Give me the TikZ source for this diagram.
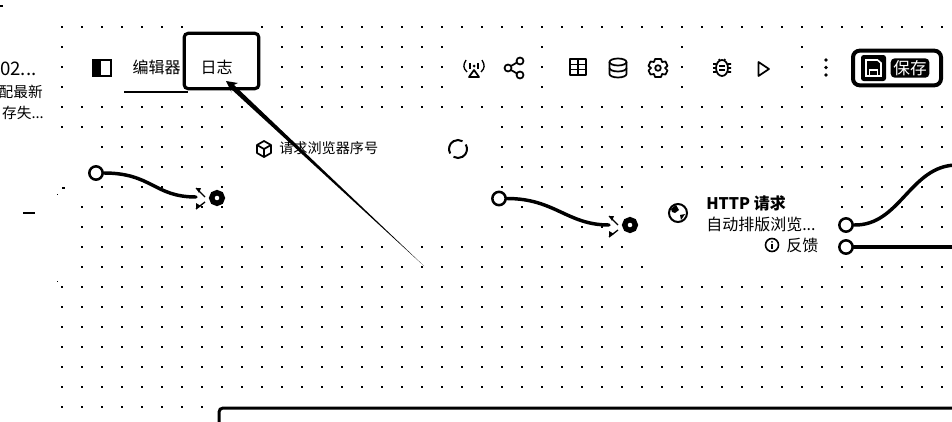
\documentclass[tikz,border=0pt]{standalone}
\usepackage{fontspec}
\setmainfont{Noto Sans CJK SC}
\tikzset{
  x=0.75pt,y=-0.75pt,
  wire/.style={line width=2.6pt,line cap=round},
  stem/.style={line width=2.25pt},
  srcport/.style={circle,draw=black,fill=white,line width=1.9pt,minimum size=10pt,inner sep=0pt},
  dstport/.style={circle,draw=black,fill=white,line width=4pt,minimum size=8pt,inner sep=0pt},
  label/.style={inner sep=0pt,font=\fontsize{12pt}{13pt}\selectfont},
  small/.style={inner sep=0pt,font=\fontsize{10.6pt}{12pt}\selectfont},
  icon/.style={line width=1.3pt,draw=black,line join=round},
  tip/.style={line width=1pt},
}
\newcommand{\dotrun}[3]{\foreach \k in {#2,...,#3}{\fill ({61+20*\k},{#1-1}) rectangle +(2,2);}}
\newcommand{\opentip}[1]{%
  \draw[tip] ($(#1)+(0,-9)$) -- ($(#1)+(9,0)$);
  \draw[tip] ($(#1)+(0,12)$) -- ($(#1)+(9,5)$);
  \fill ($(#1)+(0,-9)$) -- ($(#1)+(5,-9)$) -- ($(#1)+(3,-4)$) -- cycle;
  \fill ($(#1)+(0,12)$) -- ($(#1)+(5,9)$) -- ($(#1)+(0,6)$) -- cycle;}
\usetikzlibrary{calc}
\begin{document}
\begin{tikzpicture}
\useasboundingbox (0,0) rectangle (952,421);
\clip (0,0) rectangle (952,421);
\fill[white] (0,0) rectangle (952,421);
% dot grid
\dotrun{27}{0}{6}\dotrun{27}{10}{44}
\foreach \r in {47,67,87}{\dotrun{\r}{0}{0}\dotrun{\r}{11}{19}\dotrun{\r}{24}{24}\dotrun{\r}{31}{31}\dotrun{\r}{37}{37}}
\dotrun{107}{0}{9}\dotrun{107}{11}{44}
\dotrun{127}{0}{8}\dotrun{127}{22}{44}
\dotrun{147}{2}{8}\dotrun{147}{22}{44}
\dotrun{167}{3}{8}\dotrun{167}{22}{44}
\dotrun{187}{2}{5}\dotrun{187}{8}{8}\dotrun{187}{22}{28}\dotrun{187}{39}{44}
\dotrun{207}{1}{8}\dotrun{207}{23}{23}\dotrun{207}{26}{28}\dotrun{207}{39}{44}
\dotrun{227}{1}{8}\dotrun{227}{22}{27}\dotrun{227}{41}{44}
\dotrun{247}{1}{16}\dotrun{247}{18}{28}
\dotrun{267}{1}{29}\dotrun{267}{39}{44}
\foreach \r in {287,307,327,347,367,387}{\dotrun{\r}{0}{44}}
\dotrun{407}{0}{7}
% stray marks on the left edge
\fill (0,5) rectangle (3,7);
\fill (23,212) rectangle (35,214);
\fill (62,187) rectangle (65,189);
\fill (57,194) rectangle (58,195);
\fill (57,281) rectangle (58,282);
% cut-off side panel text
\node[anchor=west,inner sep=0pt,font=\fontsize{14pt}{15pt}\selectfont] (sidea) at (0,69) {02...};
\node[anchor=east,inner sep=0pt,font=\fontsize{11pt}{12pt}\selectfont] (sideb) at (43,92) {配最新};
\node[anchor=east,inner sep=0pt,font=\fontsize{11pt}{12pt}\selectfont] (sidec) at (44,113) {存失...};
% panel toggle
\draw[line width=1pt] (93,60) rectangle (111,76);
\fill (93,60) rectangle (101,76);
% tabs
\node[label] (tabedit) at (156.5,67) {编辑器};
\draw[line width=1.5pt] (124,91.5) -- (188,91.5);
\node[draw=black,line width=2.4pt,rounded corners=3pt,minimum width=56pt,minimum height=41.5pt,inner sep=0pt] (tablog) at (221.5,61) {};
\node[label] (tablogtext) at (216.5,67) {日志};
% hand drawn arrow
\coordinate (arrowtip) at (226,81);
\coordinate (arrowend) at (424,266);
\fill (arrowtip) -- (238,83) -- (233.9,84.9) -- (arrowend) -- (230.1,88.1) -- (231.5,92.5) -- cycle;
% node 1 title
\begin{scope}[shift={(264,149)}]
 \draw[icon] (0,-8) -- (7,-4) -- (7,4) -- (0,8) -- (-7,4) -- (-7,-4) -- cycle;
 \draw[icon] (-7,-4) -- (0,0) -- (7,-4) (0,0) -- (0,8);
\end{scope}
\node[anchor=west,small] (reqtitle) at (279,148) {请求浏览器序号};
% refresh
\begin{scope}[shift={(458,149)}]
 \draw[line width=1.5pt] (0,0) ++(-30:9) arc (-30:120:9);
 \draw[line width=1.5pt] (0,0) ++(150:9) arc (150:300:9);
\end{scope}
\node[inner sep=0pt,minimum size=1pt] (refreshcenter) at (458,149) {};
% toolbar icons
\begin{scope}[shift={(474,68)}]
 \draw[line width=1pt] (-8,-8) .. controls (-11,-3) and (-11,0) .. (-7,4);
 \draw[line width=1pt] (8,-8) .. controls (11,-3) and (11,0) .. (7,4);
 \draw[line width=.9pt] (-4,-5) -- (-4,1) (4,-5) -- (4,1);
 \fill (0,-2) circle (1.5);
 \draw[icon] (0,2) -- (-5,9) -- (5,9) -- cycle;
\end{scope}
\begin{scope}[shift={(514,68)}]
 \draw[icon] (-6,0) circle (3.5) (6,-7) circle (3.5) (6,7) circle (3.5);
 \draw[icon] (-3,-2) -- (3,-5.5) (-3,2) -- (3,5.5);
\end{scope}
\begin{scope}[shift={(578,67)}]
 \draw[icon] (-8,-8) rectangle (8,8);
 \draw[icon] (-8,-2.5) -- (8,-2.5) (-8,2.5) -- (8,2.5) (0,-8) -- (0,8);
\end{scope}
\begin{scope}[shift={(618,68)}]
 \draw[icon] (0,-6) ellipse (8.5 and 3.5);
 \draw[icon] (-8.5,-6) -- (-8.5,6) arc (180:0:8.5 and 3.5) -- (8.5,-6);
 \draw[icon] (-8.5,0) arc (180:0:8.5 and 3.5);
\end{scope}
\begin{scope}[shift={(658,68)}]
 \draw[icon] (-3,-9) -- (3,-9) -- (4,-6) -- (7.5,-6.5) -- (9.5,-2) -- (7,0) -- (9.5,2.5) -- (7.5,6.5) -- (4,6) -- (3,9) -- (-3,9) -- (-4,6) -- (-7.5,6.5) -- (-9.5,2.5) -- (-7,0) -- (-9.5,-2) -- (-7.5,-6.5) -- (-4,-6) -- cycle;
 \draw[icon] (0,0) circle (2.8);
\end{scope}
\begin{scope}[shift={(722,68)}]
 \draw[icon] (0,0) ellipse (6 and 8);
 \draw[icon] (-3,-1.8) -- (3,-1.8) (-3,1.8) -- (3,1.8);
 \draw[icon] (-9,-4) -- (-6,-4) (-9,0) -- (-6,0) (-9,4) -- (-6,4) (9,-4) -- (6,-4) (9,0) -- (6,0) (9,4) -- (6,4) (-3,-9) -- (-2,-7) (3,-9) -- (2,-7);
\end{scope}
\draw[icon] (758.5,62) -- (769,69) -- (758.5,76) -- cycle;
\fill (826,60) circle (1.8) (826,67.5) circle (1.8) (826,75) circle (1.8);
% save button
\node[draw=black,line width=3pt,rounded corners=5pt,minimum width=66pt,minimum height=26pt,inner sep=0pt] (savebtn) at (897,68) {};
\fill[rounded corners=2pt] (861,55) rectangle (886,81);
\begin{scope}[shift={(873.5,68)}]
 \draw[line width=1.2pt,white] (-7.5,-8) -- (4,-8) -- (7.5,-5) -- (7.5,8) -- (-7.5,8) -- cycle;
 \draw[line width=1.2pt,white] (-4,8) -- (-4,2) -- (4,2) -- (4,8);
\end{scope}
\node[fill=black,text=white,rounded corners=3pt,inner xsep=2pt,inner ysep=1.5pt,font=\fontsize{12.5pt}{13pt}\selectfont] (savetext) at (910,68) {保存};
% left connector
\node[srcport] (p1) at (96,173) {};
\node[dstport] (t1) at (217,198) {};
\coordinate (h1) at (196,197);
\draw[wire] (p1.east) .. controls +(48,0) and +(-42,0) .. (h1);
\opentip{h1}
% middle connector
\node[srcport] (p2) at (499,198.5) {};
\node[dstport] (t2) at (630,225) {};
\coordinate (h2) at (609,225);
\draw[wire] (p2.east) .. controls +(48,0) and +(-42,0) .. (h2);
\opentip{h2}
% http node
\begin{scope}[shift={(678,213)}]
 \draw[line width=1.5pt] (0,0) circle (9);
 \fill (-7,-4) -- (-2,-8) -- (1,-3) -- (-3,0) -- (-6,-1) -- cycle;
 \fill (2,2) -- (7,1) -- (3,7) -- cycle;
\end{scope}
\node[anchor=west,inner sep=0pt,font=\fontsize{12pt}{13pt}\selectfont\bfseries] (httptitle) at (706,203) {HTTP 请求};
\node[anchor=west,label] (httpsub) at (706,224) {自动排版浏览...};
\begin{scope}[shift={(772,245)}]
 \draw[line width=1.2pt] (0,0) circle (6.5);
 \fill (-1,-1) rectangle (1,4);
 \fill (0,-3.2) circle (1);
\end{scope}
\node[anchor=west,label] (feedback) at (786,245) {反馈};
\node[srcport] (p3) at (846,225) {};
\node[srcport] (p4) at (846,247) {};
\coordinate (o3) at (956,165);
\coordinate (o4) at (956,247);
\draw[wire] (p3.east) .. controls (900,226) and (910,166) .. (o3);
\draw[wire] (p4.east) -- (o4);
% group frame
\draw[stem,rounded corners=3pt] (219,425) |- (956,408);
\end{tikzpicture}
\end{document}
